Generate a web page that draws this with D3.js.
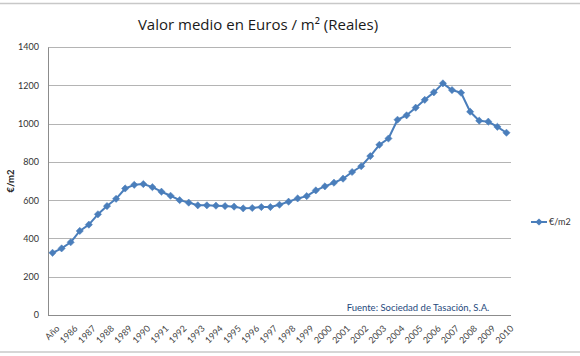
<!DOCTYPE html>
<html>
<head>
<meta charset="utf-8">
<script src="https://cdn.jsdelivr.net/npm/d3@7"></script>
<style>
  html, body { margin: 0; padding: 0; background: #fff; }
  svg { display: block; }
</style>
</head>
<body>
<svg id="chart" width="580" height="356"></svg>
<script>
const titleText = "Valor medio en Euros / m\u00B2 (Reales)";
const yTitle = "\u20AC/m2";
const seriesName = "\u20AC/m2";
const sourceText = "Fuente: Sociedad de Tasaci\u00F3n, S.A.";
// tick labels on every other point (semi-annual series)
const tickLabels = ["A\u00F1o","1986","1987","1988","1989","1990","1991","1992","1993","1994","1995","1996","1997","1998","1999","2000","2001","2002","2003","2004","2005","2006","2007","2008","2009","2010"];
const values = [325,348,380,439,472,526,569,607,661,680,684,668,644,623,600,587,573,573,571,569,566,557,559,564,564,576,592,609,621,651,672,691,712,747,777,830,889,922,1020,1043,1083,1124,1163,1210,1175,1161,1062,1015,1010,983,952];
const categories = values.map((v, i) => i % 2 === 0 ? tickLabels[i / 2] : "");
const yTicks = [0,200,400,600,800,1000,1200,1400];

const svg = d3.select("#chart");
const font = "Lato, 'Open Sans', sans-serif";
const pLeft = 48, pRight = 511, pTop = 47, pBottom = 315;

// frame lines
svg.append("line").attr("x1",0).attr("x2",580).attr("y1",3.5).attr("y2",3.5).attr("stroke","#c8c8c8").attr("stroke-width",1.5);
svg.append("line").attr("x1",0).attr("x2",580).attr("y1",352).attr("y2",352).attr("stroke","#c8c8c8").attr("stroke-width",1.5);

const x = d3.scalePoint().domain(d3.range(values.length)).range([pLeft, pRight]).padding(0.5);
const y = d3.scaleLinear().domain([0, 1400]).range([pBottom, pTop]);

// gridlines
svg.append("g").selectAll("line").data(yTicks.filter(t => t > 0)).join("line")
  .attr("x1", pLeft).attr("x2", pRight)
  .attr("y1", d => Math.round(y(d)) + 0.5).attr("y2", d => Math.round(y(d)) + 0.5)
  .attr("stroke", "#b4b4b4").attr("stroke-width", 1);

// y axis
const yAxis = svg.append("g").attr("transform", `translate(${pLeft},0)`)
  .call(d3.axisLeft(y).tickValues(yTicks).tickFormat(d3.format("d")).tickSize(0).tickPadding(9));
yAxis.select(".domain").attr("stroke", "#8c8c8c");
yAxis.selectAll("text").attr("font-family", font).attr("font-size", 9).attr("fill", "#333");

// x axis
const xAxis = svg.append("g").attr("transform", `translate(0,${pBottom})`)
  .call(d3.axisBottom(x).tickSize(0).tickFormat(i => categories[i]));
xAxis.select(".domain").attr("stroke", "#8c8c8c").attr("d", `M${pLeft},0.5H${pRight}`);
xAxis.selectAll("text")
  .attr("font-family", font).attr("font-size", 9).attr("fill", "#444")
  .attr("text-anchor", "end")
  .attr("dy", 0)
  .attr("transform", "translate(5,12) rotate(-45)");

// y title
svg.append("text").attr("transform", `translate(14,${(pTop+pBottom)/2}) rotate(-90)`)
  .attr("text-anchor", "middle").attr("font-family", font).attr("font-size", 9.5)
  .attr("font-weight", "bold").attr("fill", "#222").text(yTitle);

// title
svg.append("text").attr("x", 258).attr("y", 30).attr("text-anchor", "middle")
  .attr("font-family", "'Open Sans', sans-serif").attr("font-size", 15).attr("fill", "#1a1a1a").text(titleText);

// line
const color = "#4a7ebb";
svg.append("path").datum(values)
  .attr("fill", "none").attr("stroke", color).attr("stroke-width", 2).attr("stroke-linejoin", "round")
  .attr("d", d3.line().x((d, i) => x(i)).y(d => y(d)));

const marker = d3.symbol(d3.symbolSquare, 26);
svg.append("g").selectAll("path").data(values).join("path")
  .attr("d", marker)
  .attr("transform", (d, i) => `translate(${x(i)},${y(d)}) rotate(45)`)
  .attr("fill", color).attr("stroke", color).attr("stroke-width", 0.5);

// source
svg.append("text").attr("x", 418).attr("y", 311).attr("text-anchor", "middle")
  .attr("font-family", font).attr("font-size", 9.5).attr("fill", "#1f497d").text(sourceText);

// legend
const lg = svg.append("g").attr("transform", "translate(531,222)");
lg.append("line").attr("x1", 0).attr("x2", 16).attr("y1", 0).attr("y2", 0).attr("stroke", color).attr("stroke-width", 2);
lg.append("path").attr("d", marker).attr("transform", "translate(8,0) rotate(45)").attr("fill", color);
lg.append("text").attr("x", 18).attr("y", 3).attr("font-family", font).attr("font-size", 9).attr("fill", "#333").text(seriesName);
</script>
</body>
</html>
